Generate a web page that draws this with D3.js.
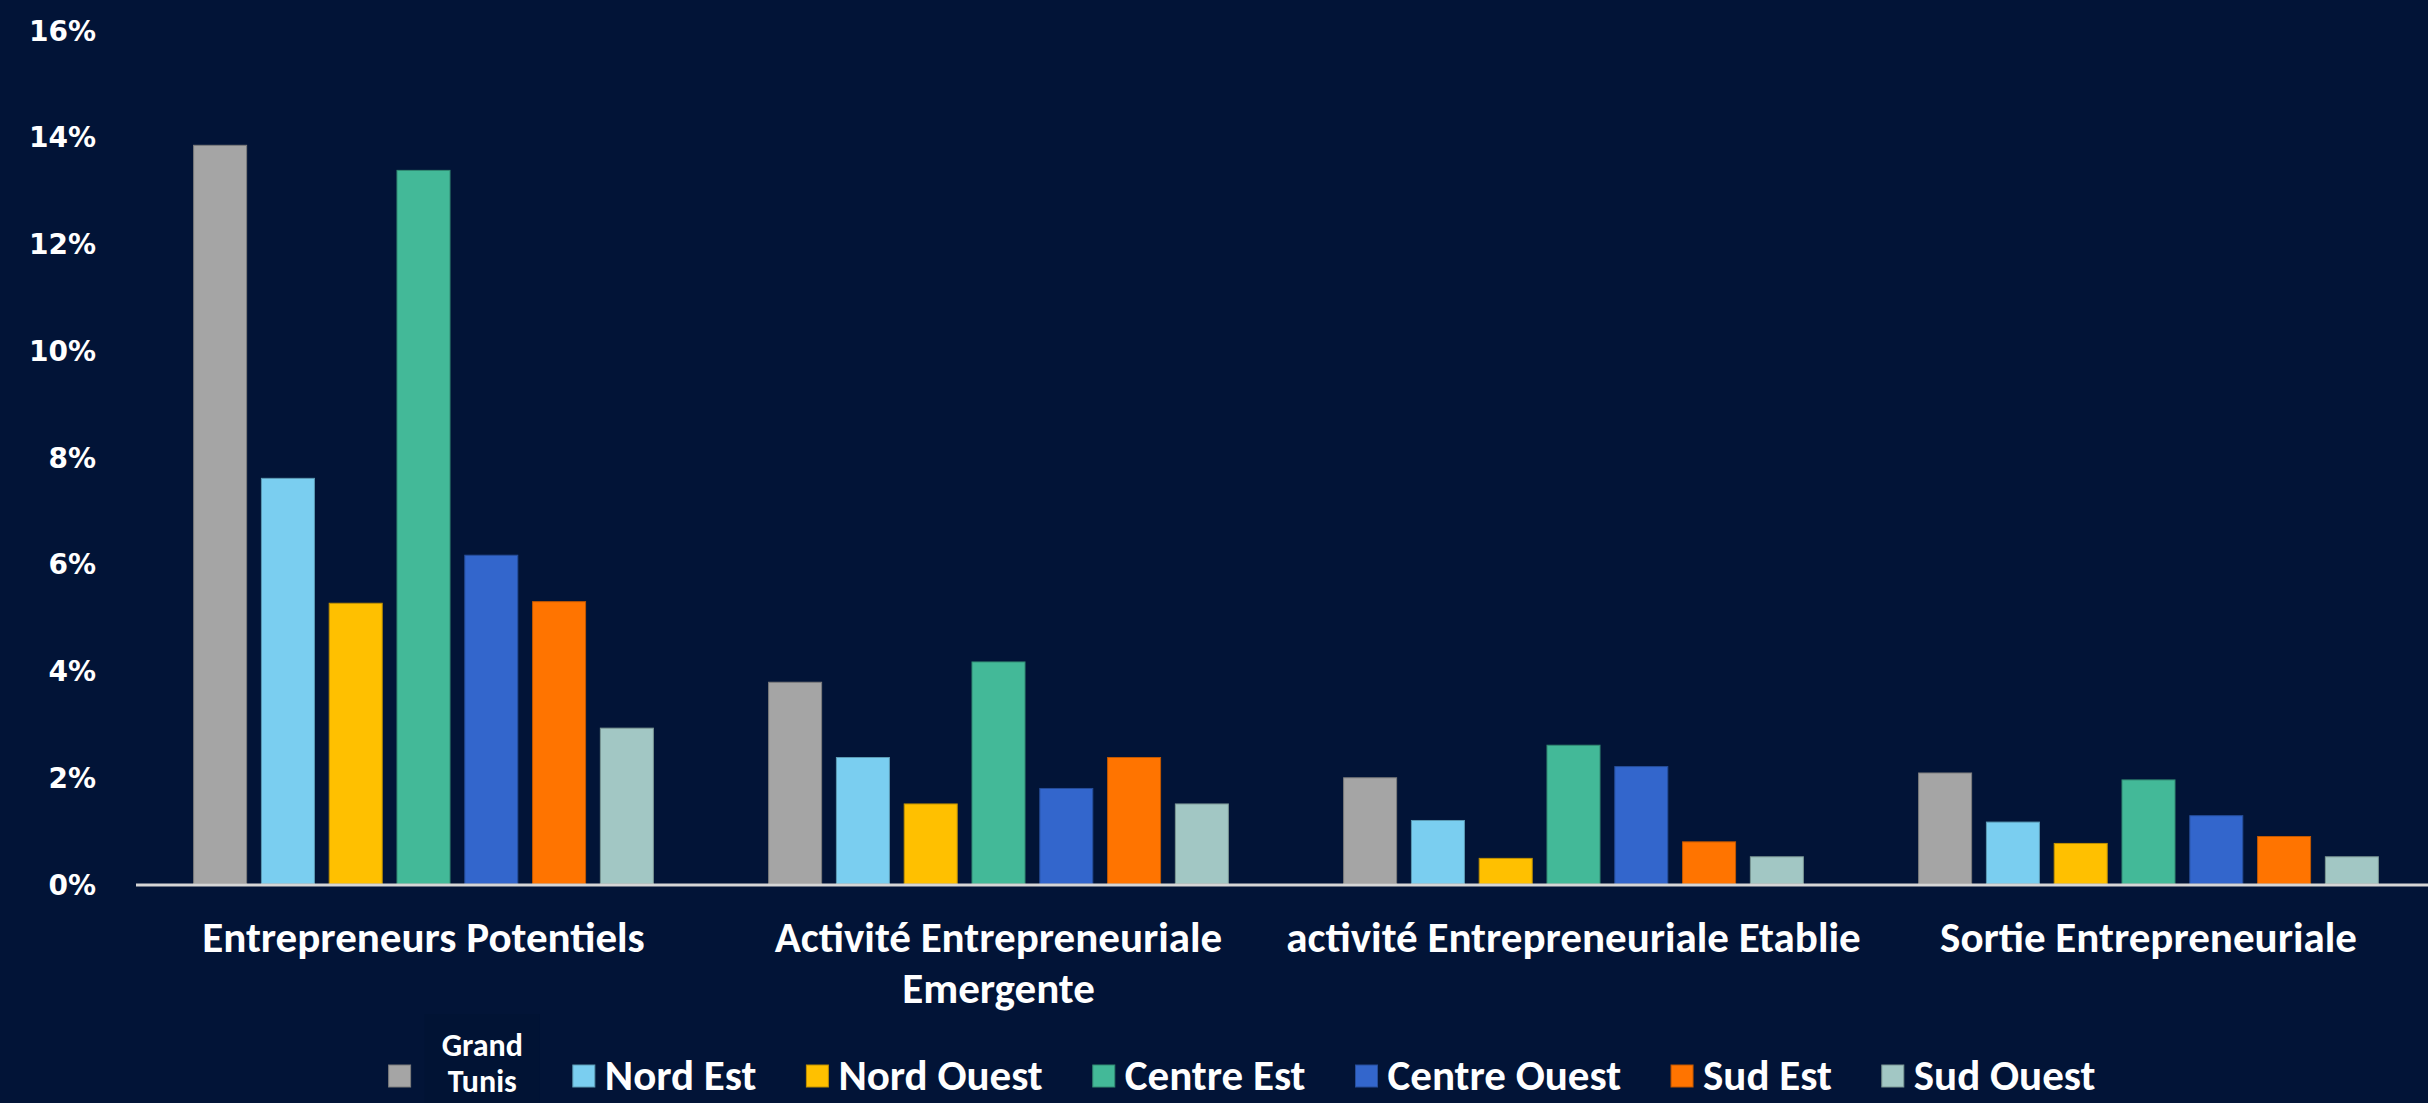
<!DOCTYPE html>
<html>
<head>
<meta charset="utf-8">
<script src="https://cdn.jsdelivr.net/npm/d3@7"></script>
<style>
  html, body { margin: 0; padding: 0; background: #021437; overflow: hidden; }
  svg { display: block; }
  .lbl { font-family: Carlito, "Liberation Sans Narrow", "Liberation Sans", sans-serif; font-weight: bold; fill: #ffffff; }
  .ytick { font-family: "DejaVu Sans", sans-serif; font-weight: bold; fill: #ffffff; }
</style>
</head>
<body>
<svg id="chart" width="2428" height="1103"></svg>
<script>
// ---- data ----
const categories = [
  "Entrepreneurs Potentiels",
  "Activité Entrepreneuriale\nEmergente",
  "activité Entrepreneuriale Etablie",
  "Sortie Entrepreneuriale"
];
const seriesNames = ["Grand\nTunis", "Nord Est", "Nord Ouest", "Centre Est", "Centre Ouest", "Sud Est", "Sud Ouest"];
const grandTunis  = [13.84, 3.78, 1.99, 2.08];
const nordEst     = [7.60, 2.37, 1.19, 1.16];
const nordOuest   = [5.26, 1.50, 0.48, 0.76];
const centreEst   = [13.37, 4.16, 2.60, 1.95];
const centreOuest = [6.16, 1.79, 2.20, 1.28];
const sudEst      = [5.29, 2.37, 0.79, 0.89];
const sudOuest    = [2.92, 1.50, 0.51, 0.51];
const yTickValues = [0, 2, 4, 6, 8, 10, 12, 14, 16];
const yTickLabels = ["0%", "2%", "4%", "6%", "8%", "10%", "12%", "14%", "16%"];

const seriesValues = [grandTunis, nordEst, nordOuest, centreEst, centreOuest, sudEst, sudOuest];
const colors = ["#A5A5A5", "#7ACEF0", "#FFC000", "#43B998", "#3366CC", "#FF7400", "#A2C7C4"];

// ---- layout ----
const svg = d3.select("#chart");
const W = 2428, H = 1103;
const plotLeft = 136, plotRight = 2436, plotTop = 30, plotBottom = 884;

const x0 = d3.scaleBand().domain(categories).range([plotLeft, plotRight]).paddingInner(0).paddingOuter(0);
const x1 = d3.scaleBand().domain(seriesNames).range([0, x0.bandwidth()]).paddingInner(0.218).paddingOuter(0.85);
const y = d3.scaleLinear().domain([0, 16]).range([plotBottom, plotTop]);

svg.append("rect").attr("width", W).attr("height", H).attr("fill", "#021437");

// y axis labels
const yAxis = d3.axisLeft(y).tickValues(yTickValues).tickFormat((d, i) => yTickLabels[i]).tickSize(0).tickPadding(0);
const yg = svg.append("g").attr("transform", "translate(96,0)").call(yAxis);
yg.select(".domain").remove();
yg.selectAll("text").attr("class", "ytick").attr("font-size", 28).attr("fill", "#fff").attr("dy", "0.36em");

// bars
const groups = svg.append("g").selectAll("g").data(categories).join("g")
  .attr("transform", d => `translate(${x0(d)},0)`);
groups.selectAll("rect").data((c, ci) => seriesNames.map((s, si) => ({ s, si, v: seriesValues[si][ci] })))
  .join("rect")
  .attr("x", d => x1(d.s))
  .attr("width", x1.bandwidth())
  .attr("y", d => y(d.v))
  .attr("height", d => y(0) - y(d.v))
  .attr("fill", d => colors[d.si])
  .attr("stroke", d => d3.color(colors[d.si]).darker(0.8))
  .attr("stroke-width", 1);

// x axis line
svg.append("line").attr("x1", plotLeft).attr("x2", W).attr("y1", plotBottom + 1).attr("y2", plotBottom + 1)
  .attr("stroke", "#D6D6D6").attr("stroke-width", 3);

// category labels
const xAxis = d3.axisBottom(x0).tickSize(0).tickFormat("");
const xg = svg.append("g").attr("transform", `translate(0,${plotBottom})`).call(xAxis);
xg.select(".domain").remove();
xg.selectAll(".tick").each(function(d) {
  const t = d3.select(this).append("text").attr("class", "lbl").attr("font-size", 43)
    .attr("text-anchor", "middle");
  d.split("\n").forEach((line, i) => {
    t.append("tspan").attr("x", 0).attr("y", 68 + i * 51).text(line);
  });
});

// legend
const legend = svg.append("g");
const sq = 22, gapText = 10, gapItem = 50;
let cx = 0;
seriesNames.forEach((name, i) => {
  const g = legend.append("g").attr("transform", `translate(${cx},0)`);
  g.append("rect").attr("x", 0).attr("y", -11).attr("width", sq).attr("height", sq)
    .attr("fill", colors[i]).attr("stroke", d3.color(colors[i]).darker(0.8)).attr("stroke-width", 1);
  const lines = name.split("\n");
  let w;
  if (lines.length > 1) {
    const tx = sq + 31;
    const t = g.append("text").attr("class", "lbl").attr("font-size", 32).attr("text-anchor", "middle");
    lines.forEach((ln, k) => t.append("tspan").attr("x", 0).attr("y", -20 + k * 36).text(ln));
    const tw = t.node().getBBox().width;
    t.attr("transform", `translate(${tx + tw / 2},0)`);
    g.insert("rect", "text").attr("x", tx - 17).attr("y", -62).attr("width", tw + 34).attr("height", 120).attr("fill", "#011334");
    w = tx + tw;
  } else {
    const t = g.append("text").attr("class", "lbl").attr("font-size", 43)
      .attr("x", sq + gapText).attr("y", 14).text(name);
    w = sq + gapText + t.node().getComputedTextLength();
  }
  cx += w + gapItem;
});
const legendWidth = cx - gapItem;
legend.attr("transform", `translate(${1242 - legendWidth / 2},1076)`);
</script>
</body>
</html>
